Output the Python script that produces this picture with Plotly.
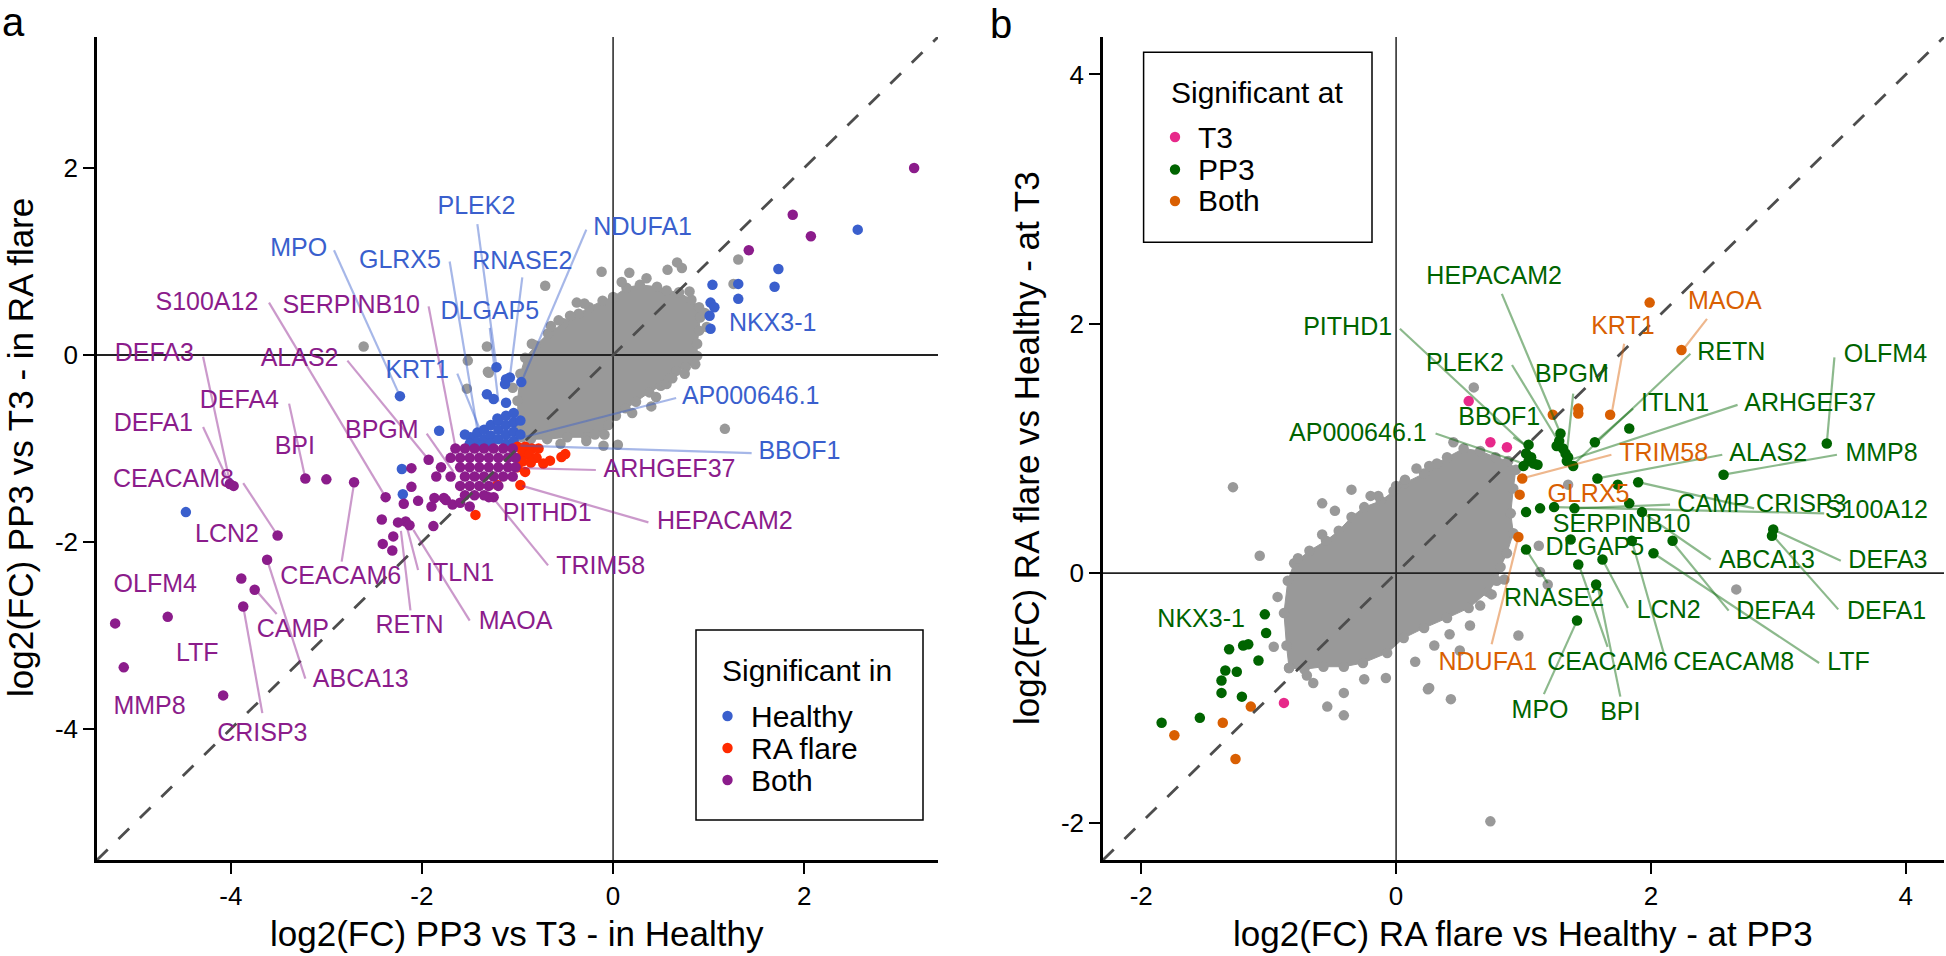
import plotly.graph_objects as go

W, H = 1946, 956
FONT = "Liberation Sans, Arial, sans-serif"

# ---------------- axis limits / ticks ----------------
A_LIM = [-5.4, 3.4]
B_LIM = [-2.3, 4.3]
A_TICKS = [-4, -2, 0, 2]
B_TICKS = [-2, 0, 2, 4]

# ---------------- colours ----------------
GRAY = "#999999"
BLUE = "#3A5FCD"
RED = "#FF2A00"
PURPLE = "#8B1C8B"
MAGENTA = "#E7298A"
GREEN = "#006400"
ORANGE = "#D95F02"

# ================= PANEL A data =================
# dense gray cloud (outline of the solid mass of non-significant genes)
cloud_a_x = [-0.99, -1.00, -0.97, -0.92, -0.81, -0.68, -0.52, -0.36, -0.25, -0.11, 0.0, 0.14, 0.28, 0.46, 0.56,
             0.69, 0.82, 0.90, 0.91, 0.90, 0.88, 0.88, 0.86, 0.76, 0.66, 0.59, 0.50, 0.38, 0.24, 0.13, 0.03,
             -0.05, -0.09, -0.28, -0.48, -0.69, -0.86, -0.95]
cloud_a_y = [-0.75, -0.49, -0.20, -0.03, 0.10, 0.23, 0.34, 0.44, 0.51, 0.58, 0.62, 0.72, 0.75, 0.73, 0.69,
             0.67, 0.59, 0.51, 0.40, 0.26, 0.12, -0.01, -0.10, -0.13, -0.17, -0.25, -0.33, -0.40, -0.50, -0.57, -0.65,
             -0.75, -0.85, -0.88, -0.88, -0.90, -0.90, -0.88]
# scattered gray genes
gray_a_x = [-0.12, 0.17, 0.09, -0.71, -0.38, -0.57, -0.45, -0.85, 0.67, 0.72, 0.57, 1.31, 1.26, 1.17, 0.56,
            -0.19, -0.28, 0.05, -1.32, -1.30, -2.61, -1.52, -1.31, -1.53, 0.98, 0.96, 0.62, -0.10, 0.40,
            -0.30, 0.35, 0.80, -0.65, 0.20, -1.05, 0.75, 0.45, -0.55]
gray_a_y = [0.89, 0.88, 0.78, 0.74, 0.56, 0.37, 0.42, 0.12, 0.99, 0.93, 0.91, 1.02, 0.76, -0.79, -0.31,
            -0.85, -0.92, -0.96, 0.09, -0.19, 0.09, -0.06, -0.18, -0.36, 0.30, 0.45, -0.25, -0.97, -0.55,
            0.55, 0.82, 0.68, 0.31, -0.62, -0.35, -0.20, -0.45, -0.95]
# significant in Healthy
blue_a_x = [2.56, 1.73, 1.69, 1.31, 1.31, 1.04, 1.02, 1.06, 1.01, 1.02, -1.22, -0.96, -1.08, -1.12, -2.23,
            -1.32, -1.25, -1.12, -1.82, -2.21, -2.20, -4.47, -1.21, -1.13,
            -1.49, -1.42, -1.42, -1.35, -1.35, -1.28, -1.28, -1.28, -1.20, -1.20, -1.20, -1.12, -1.12, -1.12,
            -1.12, -1.04, -1.04, -1.04, -1.04, -0.97, -0.97, -1.55, -1.50, -1.38]
blue_a_y = [1.34, 0.92, 0.73, 0.76, 0.60, 0.75, 0.56, 0.51, 0.42, 0.28, -0.13, -0.29, -0.24, -0.26, -0.44,
            -0.42, -0.47, -0.51, -0.81, -1.22, -1.49, -1.68, -0.68, -0.31,
            -0.88, -0.83, -0.93, -0.80, -0.90, -0.75, -0.86, -0.95, -0.70, -0.80, -0.90, -0.65, -0.75, -0.85,
            -0.95, -0.62, -0.72, -0.82, -0.92, -0.70, -0.85, -0.85, -0.95, -0.97]
# significant in RA flare
red_a_x = [-1.00, -0.92, -0.85, -0.78, -0.95, -0.88, -0.80, -0.95, -0.86, -0.73, -0.54, -0.50, -0.92, -0.97,
           -1.21, -1.44, -1.00, -0.66]
red_a_y = [-0.98, -0.98, -1.00, -1.00, -1.06, -1.07, -1.10, -1.14, -1.15, -1.16, -1.09, -1.06, -1.25, -1.39,
           -1.39, -1.71, -1.20, -1.13]
# significant in both
purple_a_x = [3.15, 1.88, 2.07, 1.42, -4.01, -3.97, -3.22, -3.00, -2.71, -2.38, -2.42, -2.30, -2.41, -2.31,
              -3.51, -3.62, -3.89, -3.75, -3.87, -5.21, -4.66, -5.12, -4.08, -2.19, -2.11, -2.11, -1.93, -2.04,
              -1.90, -1.87, -1.77, -1.68, -2.17, -2.25, -2.13, -1.88, -1.30,
              -1.65, -1.55, -1.45, -1.35, -1.25, -1.15, -1.05,
              -1.70, -1.60, -1.50, -1.40, -1.30, -1.20, -1.10, -1.02,
              -1.80, -1.60, -1.50, -1.40, -1.30, -1.20, -1.10, -1.02,
              -1.85, -1.70, -1.55, -1.45, -1.35, -1.25, -1.15, -1.05,
              -1.60, -1.50, -1.40, -1.30, -1.20,
              -1.55, -1.45, -1.35, -1.25, -1.50, -1.60, -1.75]
purple_a_y = [2.00, 1.50, 1.27, 1.12, -1.38, -1.40, -1.32, -1.33, -1.36, -1.52, -1.76, -1.94, -2.02, -2.09,
              -1.93, -2.19, -2.39, -2.51, -2.69, -2.87, -2.80, -3.34, -3.64, -1.59, -1.41, -1.21, -1.12, -1.56,
              -1.62, -1.53, -1.53, -1.60, -1.78, -1.79, -1.82, -1.83, -1.52,
              -1.00, -1.00, -1.00, -1.00, -1.00, -1.00, -1.00,
              -1.10, -1.10, -1.10, -1.10, -1.10, -1.10, -1.10, -1.10,
              -1.20, -1.20, -1.20, -1.20, -1.20, -1.20, -1.20, -1.20,
              -1.30, -1.30, -1.30, -1.30, -1.30, -1.30, -1.30, -1.30,
              -1.40, -1.40, -1.40, -1.40, -1.40,
              -1.50, -1.50, -1.50, -1.52, -1.62, -1.58, -1.55]

# labels panel a
lab_a_text = ["PLEK2", "NDUFA1", "MPO", "GLRX5", "RNASE2", "DLGAP5", "KRT1", "NKX3-1", "AP000646.1", "BBOF1",
              "S100A12", "SERPINB10", "ALAS2", "DEFA3", "DEFA4", "DEFA1", "BPI", "BPGM", "CEACAM8", "LCN2",
              "OLFM4", "LTF", "MMP8", "CRISP3", "CAMP", "ABCA13", "CEACAM6", "RETN", "ITLN1", "MAOA",
              "TRIM58", "PITHD1", "HEPACAM2", "ARHGEF37"]
lab_a_group = ["H"] * 10 + ["B"] * 24
lab_a_x = [-1.43, 0.31, -3.29, -2.23, -0.95, -1.29, -2.05, 1.67, 1.44, 1.95,
           -4.25, -2.74, -3.28, -4.80, -3.91, -4.81, -3.33, -2.42, -4.60, -4.04,
           -4.79, -4.35, -4.85, -3.67, -3.35, -2.64, -2.85, -2.13, -1.60, -1.02,
           -0.13, -0.69, 1.17, 0.59]
lab_a_y = [1.57, 1.35, 1.12, 1.00, 0.99, 0.45, -0.18, 0.32, -0.46, -1.05,
           0.55, 0.52, -0.05, 0.00, -0.50, -0.75, -0.99, -0.82, -1.34, -1.93,
           -2.47, -3.21, -3.77, -4.06, -2.95, -3.48, -2.38, -2.91, -2.35, -2.86,
           -2.27, -1.71, -1.79, -1.24]
# segments: label end -> gene point (None = no segment)
seg_a_x0 = [-1.42, -0.28, -2.92, -1.71, -0.95, -1.29, -1.63, None, 0.66, 1.45,
            -3.60, -1.93, -2.78, -4.29, -3.39, -4.29, None, -1.95, -3.87, None,
            None, None, None, -3.67, -3.52, -3.22, -2.84, -2.12, -2.04, -1.50,
            -0.68, None, 0.37, -0.18]
seg_a_y0 = [1.40, 1.34, 1.12, 1.00, 0.83, 0.29, -0.20, None, -0.46, -1.05,
            0.56, 0.52, -0.06, -0.02, -0.52, -0.77, None, -0.84, -1.37, None,
            None, None, None, -3.83, -2.77, -3.46, -2.21, -2.73, -2.30, -2.84,
            -2.25, None, -1.79, -1.23]
seg_a_x1 = [-1.22, -0.96, -2.23, -1.42, -1.08, -1.20, -1.40, None, -0.94, -0.97,
            -2.38, -1.65, -1.93, -4.01, -3.22, -4.02, None, -1.67, -3.51, None,
            None, None, None, -3.87, -3.75, -3.62, -2.71, -2.22, -2.17, -2.09,
            -1.35, None, -0.95, -0.94]
seg_a_y1 = [-0.13, -0.29, -0.44, -0.80, -0.24, -0.50, -0.78, None, -0.88, -0.97,
            -1.52, -0.98, -1.12, -1.36, -1.32, -1.36, None, -1.25, -1.93, None,
            None, None, None, -2.69, -2.50, -2.19, -1.37, -1.88, -1.79, -1.87,
            -1.41, None, -1.40, -1.21]

# ================= PANEL B data =================
cloud_b_x = [-0.84, -0.86, -0.88, -0.85, -0.80, -0.68, -0.55, -0.45, -0.35, -0.25, -0.12, -0.02, 0.06, 0.22,
             0.32, 0.40, 0.53, 0.66, 0.78, 0.88, 0.94, 0.92, 0.90, 0.92, 0.87, 0.82, 0.79, 0.72, 0.57, 0.40,
             0.22, 0.06, -0.07, -0.26, -0.41, -0.57, -0.72]
cloud_b_y = [-0.76, -0.58, -0.32, -0.06, 0.08, 0.18, 0.26, 0.34, 0.45, 0.53, 0.58, 0.66, 0.72, 0.80,
             0.88, 0.93, 1.00, 0.98, 0.93, 0.90, 0.83, 0.68, 0.48, 0.32, 0.16, 0.05, -0.06, -0.15, -0.28, -0.36,
             -0.44, -0.52, -0.64, -0.72, -0.75, -0.75, -0.77]
gray_b_x = [-1.28, -1.07, -0.58, -0.48, -0.35, -0.14, 0.07, 0.16, 0.26, 0.61, 1.12, 1.13, 1.19, 0.96, 0.58,
            0.42, 0.26, 0.43, -0.08, -0.41, -0.54, -0.65, -0.41, -0.96, -0.93, -0.77, 0.15, 0.66, 0.75, 0.74,
            2.67, -0.58, 0.25, 1.35, 0.50, -0.25, -0.70, 0.00, 0.45, 0.85, -0.20, 0.30]
gray_b_y = [0.69, 0.14, 0.56, 0.50, 0.67, 0.62, 0.75, 0.84, 0.86, 1.49, 0.22, 0.01, -0.09, -0.50, -0.42,
            -0.49, -0.92, -1.01, -0.84, -0.96, -1.07, -0.88, -1.14, -0.59, -0.19, 0.12, -0.71, -0.26, -0.17, -1.99,
            -0.13, 0.31, -0.93, 0.71, -0.62, -0.85, -0.82, 0.70, 1.05, -0.05, 0.62, -0.58]
magenta_b_x = [0.57, 0.74, 0.87, -0.88]
magenta_b_y = [1.38, 1.05, 1.01, -1.04]
orange_b_x = [1.99, 2.24, 1.68, 1.43, 1.43, 1.23, 0.99, 0.97, 0.96, -1.14, -1.36, -1.74, -1.26]
orange_b_y = [2.17, 1.79, 1.27, 1.32, 1.28, 1.27, 0.76, 0.63, 0.29, -1.07, -1.20, -1.30, -1.49]
green_b_x = [-1.03, -1.02, -1.31, -1.20, -1.16, -1.08, -1.34, -1.25, -1.37, -1.37, -1.21, -1.54, -1.84,
             1.29, 1.28, 1.26, 1.31, 1.33, 1.35, 1.34, 1.04, 1.02, 1.04, 1.08, 1.11, 1.00, 1.06, 1.56, 1.83,
             1.39, 1.58, 1.74, 1.90, 2.57, 3.38, 1.02, 1.13, 1.24, 1.40, 1.83, 1.93, 1.37, 1.85, 2.17, 2.02,
             1.62, 1.43, 1.02, 1.57, 2.96, 2.95, 1.42]
green_b_y = [-0.33, -0.48, -0.61, -0.58, -0.57, -0.70, -0.78, -0.79, -0.86, -0.96, -0.99, -1.16, -1.20,
             1.12, 1.06, 1.02, 1.00, 0.96, 0.93, 0.90, 1.03, 0.96, 0.90, 0.88, 0.87, 0.86, 0.93, 1.05, 1.16,
             0.86, 0.76, 0.71, 0.73, 0.79, 1.04, 0.49, 0.52, 0.53, 0.52, 0.56, 0.49, 0.27, 0.26, 0.26, 0.16,
             0.11, 0.07, 0.19, -0.09, 0.35, 0.30, -0.38]

lab_b_text = ["HEPACAM2", "PITHD1", "MAOA", "KRT1", "RETN", "OLFM4", "PLEK2", "BPGM", "ITLN1", "ARHGEF37",
              "BBOF1", "AP000646.1", "TRIM58", "ALAS2", "MMP8", "GLRX5", "CAMP", "CRISP3", "S100A12",
              "SERPINB10", "DLGAP5", "ABCA13", "DEFA3", "DEFA1", "DEFA4", "LCN2", "LTF", "CEACAM8",
              "CEACAM6", "NDUFA1", "RNASE2", "MPO", "BPI", "NKX3-1"]
lab_b_group = ["P", "P", "B", "B", "P", "P", "P", "P", "P", "P",
               "P", "P", "B", "P", "P", "B", "P", "P", "P",
               "P", "P", "P", "P", "P", "P", "P", "P", "P",
               "P", "B", "P", "P", "P", "P"]
lab_b_x = [0.77, -0.38, 2.58, 1.78, 2.63, 3.84, 0.54, 1.38, 2.19, 3.25,
           0.81, -0.30, 2.10, 2.92, 3.81, 1.51, 2.49, 3.18, 3.77,
           1.77, 1.56, 2.91, 3.86, 3.85, 2.98, 2.14, 3.55, 2.65,
           1.66, 0.72, 1.24, 1.13, 1.76, -1.53]
lab_b_y = [2.37, 1.96, 2.17, 1.97, 1.76, 1.74, 1.67, 1.58, 1.35, 1.35,
           1.24, 1.11, 0.95, 0.95, 0.95, 0.62, 0.54, 0.54, 0.49,
           0.38, 0.20, 0.09, 0.09, -0.32, -0.32, -0.31, -0.73, -0.73,
           -0.73, -0.73, -0.21, -1.11, -1.13, -0.38]
seg_b_x0 = [0.83, 0.03, 2.44, 1.79, 2.31, 3.44, 0.91, 1.39, 1.86, 2.68,
            0.92, 0.31, 1.69, 2.56, 3.46, None, 2.15, 2.81, 3.36,
            None, None, 2.47, 3.49, 3.47, 2.61, 1.82, 3.32, 2.10,
            1.66, 0.75, 1.19, 1.16, 1.76, None]
seg_b_y0 = [2.24, 1.96, 2.04, 1.84, 1.76, 1.73, 1.67, 1.44, 1.32, 1.35,
            1.09, 1.12, 0.95, 0.95, 0.95, None, 0.55, 0.52, 0.48,
            None, None, 0.11, 0.10, -0.29, -0.30, -0.28, -0.72, -0.64,
            -0.59, -0.57, -0.08, -0.97, -0.99, None]
seg_b_x1 = [1.29, 1.04, 2.25, 1.69, 1.39, 3.38, 1.26, 1.34, 1.56, 1.37,
            1.04, 0.97, 0.99, 1.58, 2.57, None, 1.40, 1.90, 1.24,
            None, None, 1.93, 2.96, 2.95, 2.16, 1.62, 2.02, 1.85,
            1.43, 0.96, 1.02, 1.42, 1.58, None]
seg_b_y1 = [1.12, 1.00, 1.79, 1.27, 0.87, 1.04, 1.08, 0.96, 1.05, 0.91,
            1.01, 0.89, 0.76, 0.76, 0.79, None, 0.52, 0.73, 0.53,
            None, None, 0.49, 0.35, 0.31, 0.26, 0.11, 0.16, 0.26,
            0.08, 0.29, 0.19, -0.38, -0.09, None]

# legend entries
leg_a_title = "Significant in"
leg_a_names = ["Healthy", "RA flare", "Both"]
leg_a_cols = [BLUE, RED, PURPLE]
leg_b_title = "Significant at"
leg_b_names = ["T3", "PP3", "Both"]
leg_b_cols = [MAGENTA, GREEN, ORANGE]


def rgba(hexc, a):
    h = hexc.lstrip("#")
    return "rgba(%d,%d,%d,%.2f)" % (int(h[0:2], 16), int(h[2:4], 16), int(h[4:6], 16), a)


def P(px, py):
    return px / W, 1 - py / H


fig = go.Figure()


def add_panel(xa, ya, cx, cy, layers, lim, lab_text, lab_x, lab_y, lab_col, sx0, sy0, sx1, sy1):
    # dense cloud: filled outline plus its edge genes
    fig.add_trace(go.Scatter(x=cx + [cx[0]], y=cy + [cy[0]], mode="lines+markers", fill="toself",
                             fillcolor=GRAY, line=dict(color=GRAY, width=1),
                             marker=dict(color=GRAY, size=10.5, line=dict(width=0)),
                             xaxis=xa, yaxis=ya, hoverinfo="skip"))
    for (lx, ly, col) in layers:
        fig.add_trace(go.Scatter(x=lx, y=ly, mode="markers",
                                 marker=dict(color=col, size=10.5, line=dict(width=0)),
                                 xaxis=xa, yaxis=ya))
    # reference lines
    fig.add_trace(go.Scatter(x=[0, 0], y=lim, mode="lines", line=dict(color="black", width=1.3),
                             xaxis=xa, yaxis=ya, hoverinfo="skip"))
    fig.add_trace(go.Scatter(x=lim, y=[0, 0], mode="lines", line=dict(color="#222222", width=1.8),
                             xaxis=xa, yaxis=ya, hoverinfo="skip"))
    fig.add_trace(go.Scatter(x=lim, y=lim, mode="lines",
                             line=dict(color="#4d4d4d", width=2.8, dash="15px,15px"),
                             xaxis=xa, yaxis=ya, hoverinfo="skip"))
    # segments grouped by colour
    by_col = {}
    for i in range(len(lab_text)):
        if sx0[i] is None:
            continue
        d = by_col.setdefault(lab_col[i], ([], []))
        d[0].extend([sx0[i], sx1[i], None])
        d[1].extend([sy0[i], sy1[i], None])
    for col, (xs, ys) in by_col.items():
        fig.add_trace(go.Scatter(x=xs, y=ys, mode="lines", line=dict(color=rgba(col, 0.45), width=2.2),
                                 xaxis=xa, yaxis=ya, hoverinfo="skip"))
    fig.add_trace(go.Scatter(x=lab_x, y=lab_y, mode="text", text=lab_text, textposition="middle center",
                             textfont=dict(family=FONT, size=25, color=lab_col), xaxis=xa, yaxis=ya,
                             hoverinfo="skip"))


col_a = {"H": BLUE, "R": RED, "B": PURPLE}
col_b = {"T": MAGENTA, "P": GREEN, "B": ORANGE}

add_panel("x", "y", cloud_a_x, cloud_a_y,
          [(gray_a_x, gray_a_y, GRAY), (blue_a_x, blue_a_y, BLUE), (red_a_x, red_a_y, RED),
           (purple_a_x, purple_a_y, PURPLE)],
          A_LIM, lab_a_text, lab_a_x, lab_a_y, [col_a[g] for g in lab_a_group],
          seg_a_x0, seg_a_y0, seg_a_x1, seg_a_y1)
add_panel("x2", "y2", cloud_b_x, cloud_b_y,
          [(gray_b_x, gray_b_y, GRAY), (magenta_b_x, magenta_b_y, MAGENTA), (green_b_x, green_b_y, GREEN),
           (orange_b_x, orange_b_y, ORANGE)],
          B_LIM, lab_b_text, lab_b_x, lab_b_y, [col_b[g] for g in lab_b_group],
          seg_b_x0, seg_b_y0, seg_b_x1, seg_b_y1)

ydom = [1 - 860 / H, 1 - 37 / H]


def axis(domain, lim, ticks, anchor):
    return dict(domain=domain, range=lim, anchor=anchor, showgrid=False, zeroline=False,
                showline=True, linecolor="black", linewidth=2.5, ticks="outside", ticklen=11,
                tickwidth=2, tickcolor="black", tickvals=ticks, ticktext=[str(t) for t in ticks],
                tickfont=dict(family=FONT, size=26, color="black"), fixedrange=True)


shapes = []
annotations = []


def legend(box, title, title_xy, names, cols, dot_x, text_x, ys):
    x0, y0 = P(box[0], box[1])
    x1, y1 = P(box[2], box[3])
    shapes.append(dict(type="rect", xref="paper", yref="paper", x0=x0, x1=x1, y0=y1, y1=y0,
                       line=dict(color="black", width=1.5), fillcolor="white", layer="above"))
    tx, ty = P(*title_xy)
    annotations.append(dict(x=tx, y=ty, xref="paper", yref="paper", text=title, showarrow=False,
                            xanchor="left", yanchor="middle", font=dict(family=FONT, size=30, color="black")))
    for name, col, yy in zip(names, cols, ys):
        cx, cy = P(dot_x, yy)
        shapes.append(dict(type="circle", xref="paper", yref="paper", xsizemode="pixel", ysizemode="pixel",
                           xanchor=cx, yanchor=cy, x0=-5.2, x1=5.2, y0=-5.2, y1=5.2,
                           fillcolor=col, line=dict(width=0), layer="above"))
        lx, ly = P(text_x, yy)
        annotations.append(dict(x=lx, y=ly, xref="paper", yref="paper", text=name, showarrow=False,
                                xanchor="left", yanchor="middle", font=dict(family=FONT, size=30, color="black")))


legend((696, 630, 923, 820), leg_a_title, (720, 670), leg_a_names, leg_a_cols, 727.5, 749, [716, 748, 780])
legend((1143.6, 52.3, 1372, 242.3), leg_b_title, (1169, 93), leg_b_names, leg_b_cols, 1175, 1196,
       [137, 169.5, 201])


def text_ann(px, py, text, size, angle=0, xanchor="center"):
    x, y = P(px, py)
    annotations.append(dict(x=x, y=y, xref="paper", yref="paper", text=text, showarrow=False,
                            textangle=angle, xanchor=xanchor, yanchor="middle",
                            font=dict(family=FONT, size=size, color="black")))


text_ann(517, 933, "log2(FC) PP3 vs T3 - in Healthy", 35)
text_ann(1523, 933, "log2(FC) RA flare vs Healthy - at PP3", 35)
text_ann(20, 448, "log2(FC) PP3 vs T3 - in RA flare", 35, angle=-90)
text_ann(1026, 448, "log2(FC) RA flare vs Healthy - at T3", 35, angle=-90)
text_ann(0, 22, "a", 40, xanchor="left")
text_ann(988, 24, "b", 40, xanchor="left")

fig.update_layout(
    width=W, height=H, margin=dict(l=0, r=0, t=0, b=0),
    paper_bgcolor="white", plot_bgcolor="white", showlegend=False,
    xaxis=axis([97 / W, 938 / W], A_LIM, A_TICKS, "y"),
    yaxis=axis(ydom, A_LIM, A_TICKS, "x"),
    xaxis2=axis([1103 / W, 1944 / W], B_LIM, B_TICKS, "y2"),
    yaxis2=axis(ydom, B_LIM, B_TICKS, "x2"),
    shapes=shapes, annotations=annotations,
    font=dict(family=FONT),
)

fig.write_html("out.html", config={"displayModeBar": False},
               post_script="document.body.style.margin='0';document.body.style.padding='0';"
                           "document.documentElement.style.overflow='hidden';")
